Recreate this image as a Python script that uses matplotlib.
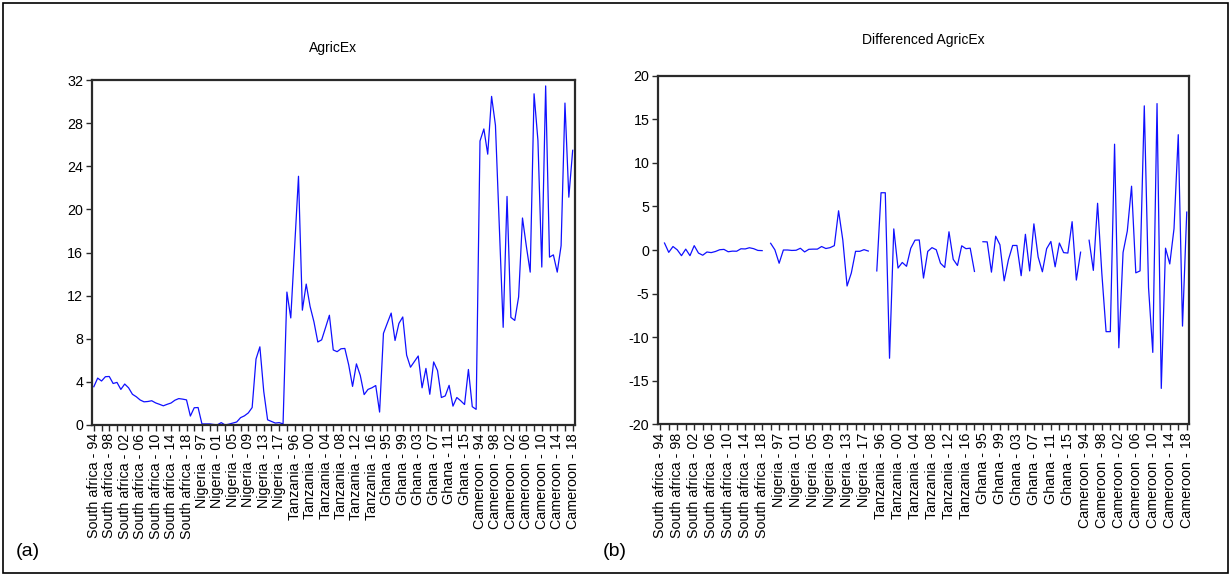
import numpy as np
import pandas as pd
import matplotlib
matplotlib.use("Agg")
import matplotlib.pyplot as plt
from matplotlib.patches import Rectangle

plt.rcParams['font.family'] = ['Liberation Sans', 'DejaVu Sans']

countries = ["South africa", "Nigeria", "Tanzania", "Ghana", "Cameroon"]
years = list(range(1994, 2019))

south_africa = [3.55, 4.35, 4.08, 4.48, 4.50, 3.85, 3.95, 3.30, 3.80, 3.45,
                2.85, 2.62, 2.32, 2.15, 2.18, 2.25, 2.05, 1.92, 1.78, 1.92,
                2.04, 2.30, 2.45, 2.40, 2.33]
nigeria = [0.83, 1.60, 1.62, 0.10, 0.10, 0.10, 0.05, 0.02, 0.22, 0.00,
           0.08, 0.18, 0.28, 0.68, 0.85, 1.12, 1.62, 6.12, 7.25, 3.12,
           0.48, 0.33, 0.18, 0.22, 0.10]
tanzania = [12.33, 9.93, 16.50, 23.07, 10.65, 13.07, 11.00, 9.57, 7.70, 7.90,
            9.03, 10.18, 6.96, 6.80, 7.07, 7.10, 5.58, 3.58, 5.67, 4.60,
            2.82, 3.30, 3.45, 3.66, 1.20]
ghana = [8.50, 9.45, 10.38, 7.84, 9.42, 10.02, 6.48, 5.36, 5.88, 6.40,
         3.45, 5.25, 2.85, 5.85, 5.05, 2.55, 2.70, 3.68, 1.75, 2.55,
         2.25, 1.90, 5.15, 1.70, 1.45]
cameroon = [26.34, 27.46, 25.12, 30.48, 27.80, 18.43, 9.06, 21.20, 9.98, 9.70,
            11.88, 19.20, 16.58, 14.18, 30.72, 26.40, 14.65, 31.45, 15.57, 15.78,
            14.18, 16.63, 29.86, 21.13, 25.48]

series = {"South africa": south_africa, "Nigeria": nigeria, "Tanzania": tanzania,
          "Ghana": ghana, "Cameroon": cameroon}

# Stacked panel: country blocks of 1994-2018
df = pd.DataFrame([(c, y, v) for c in countries for y, v in zip(years, series[c])],
                  columns=["country", "year", "agricex"])
# First difference within each cross-section (first year of each country is missing)
df["d_agricex"] = df.groupby("country", sort=False)["agricex"].diff()

labels = [f"{c} - {y % 100:02d}" for c, y in zip(df["country"], df["year"])]
x = np.arange(len(df))
label_pos = x[::4]
label_txt = [labels[i] for i in label_pos]

W, H = 1231, 576
fig = plt.figure(figsize=(W / 100, H / 100), dpi=100)

line_color = "#1010ff"
frame_color = "#2a2a2a"
tick_fs = 10.3


def style_axes(ax, ylim, yticks):
    ax.set_xlim(-0.6, len(df) - 0.4)
    ax.set_ylim(*ylim)
    ax.set_yticks(yticks)
    ax.set_yticklabels([f"{t:g}" for t in yticks], fontsize=tick_fs)
    ax.set_xticks(label_pos)
    ax.set_xticklabels(label_txt, rotation=90, fontsize=tick_fs, va="top", ha="center")
    ax.set_xticks(x[2::4], minor=True)
    ax.tick_params(axis="x", which="both", direction="out", length=4, width=1,
                   color=frame_color, pad=2)
    ax.tick_params(axis="y", direction="out", length=4, width=1,
                   color=frame_color, pad=2)
    for s in ax.spines.values():
        s.set_color(frame_color)
        s.set_linewidth(1.6)


ax1 = fig.add_axes([91.5 / W, 1 - 425 / H, (575 - 91.5) / W, (425 - 80) / H])
ax1.plot(x, df["agricex"], color=line_color, lw=0.9)
style_axes(ax1, (0, 32), np.arange(0, 33, 4))
ax1.set_title("AgricEx", fontsize=10, pad=20)

ax2 = fig.add_axes([657.7 / W, 1 - 424.3 / H, (1189.3 - 657.7) / W, (424.3 - 75.7) / H])
ax2.plot(x, df["d_agricex"], color=line_color, lw=0.9)
style_axes(ax2, (-20, 20), np.arange(-20, 21, 5))
ax2.set_title("Differenced AgricEx", fontsize=10, pad=23)

fig.text(16 / W, 1 - 552 / H, "(a)", fontsize=14, va="center", ha="left")
fig.text(603 / W, 1 - 552 / H, "(b)", fontsize=14, va="center", ha="left")

fig.patches.append(Rectangle((3 / W, 3 / H), (W - 6) / W, (H - 6) / H,
                             transform=fig.transFigure, fill=False,
                             edgecolor="black", lw=1.2))

fig.savefig("out.png", dpi=100)
